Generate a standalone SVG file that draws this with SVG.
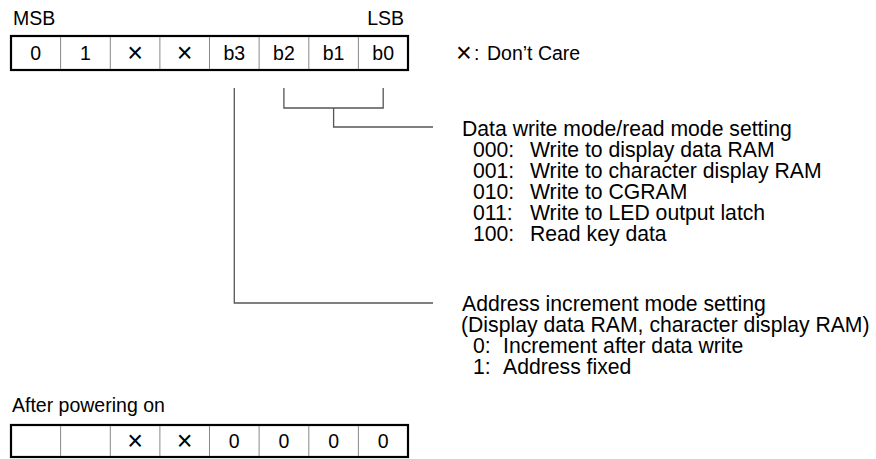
<svg xmlns="http://www.w3.org/2000/svg" width="876" height="459" viewBox="0 0 876 459">
<style>
text{font-family:"Liberation Sans",Arial,sans-serif;font-size:19.5px;fill:#000}
.c{text-anchor:middle}
.x{font-size:27px}
.d{font-size:21.2px}
.outer{fill:none;stroke:#000;stroke-width:2.2}
.div{stroke:#888;stroke-width:1}
.conn{fill:none;stroke:#555;stroke-width:1.3}
</style>
<rect width="876" height="459" fill="#fff"/>
<g id="register">
<text x="13" y="25">MSB</text>
<text x="404" y="25" text-anchor="end">LSB</text>
<rect class="outer" x="11" y="36" width="397" height="34"/>
<g class="div">
<line x1="60.6" y1="37" x2="60.6" y2="69"/><line x1="110.3" y1="37" x2="110.3" y2="69"/><line x1="159.9" y1="37" x2="159.9" y2="69"/><line x1="209.5" y1="37" x2="209.5" y2="69"/><line x1="259.1" y1="37" x2="259.1" y2="69"/><line x1="308.8" y1="37" x2="308.8" y2="69"/><line x1="358.4" y1="37" x2="358.4" y2="69"/>
</g>
<text class="c" x="35.8" y="60">0</text><text class="c" x="85.4" y="60">1</text><text class="c x" x="135.1" y="62">×</text><text class="c x" x="184.7" y="62">×</text><text class="c" x="234.3" y="60">b3</text><text class="c" x="283.9" y="60">b2</text><text class="c" x="333.6" y="60">b1</text><text class="c" x="383.2" y="60">b0</text>
</g>
<g id="legend"><text class="x" x="456" y="62">×</text><text x="474" y="60">:</text><text x="487" y="60">Don’t Care</text></g>
<g id="connectors">
<polyline class="conn" points="283.9,88 283.9,108 383.2,108 383.2,88"/>
<polyline class="conn" points="333.6,108 333.6,127 433,127"/>
<polyline class="conn" points="234.3,88 234.3,303 433,303"/>
</g>
<g id="data-mode" class="d">
<text class="d" x="462" y="136">Data write mode/read mode setting</text>
<text class="d" x="473" y="157">000:</text><text class="d" x="530" y="157">Write to display data RAM</text>
<text class="d" x="473" y="178">001:</text><text class="d" x="530" y="178">Write to character display RAM</text>
<text class="d" x="473" y="199">010:</text><text class="d" x="530" y="199">Write to CGRAM</text>
<text class="d" x="473" y="220">011:</text><text class="d" x="530" y="220">Write to LED output latch</text>
<text class="d" x="473" y="241">100:</text><text class="d" x="530" y="241">Read key data</text>
</g>
<g id="addr-mode">
<text class="d" x="462" y="311">Address increment mode setting</text>
<text class="d" x="461" y="332">(Display data RAM, character display RAM)</text>
<text class="d" x="473" y="353">0:</text><text class="d" x="503" y="353">Increment after data write</text>
<text class="d" x="473" y="374">1:</text><text class="d" x="503" y="374">Address fixed</text>
</g>
<g id="after-power">
<text x="12" y="412">After powering on</text>
<rect class="outer" x="11" y="425" width="397" height="32"/>
<g class="div">
<line x1="60.6" y1="426" x2="60.6" y2="456"/><line x1="110.3" y1="426" x2="110.3" y2="456"/><line x1="159.9" y1="426" x2="159.9" y2="456"/><line x1="209.5" y1="426" x2="209.5" y2="456"/><line x1="259.1" y1="426" x2="259.1" y2="456"/><line x1="308.8" y1="426" x2="308.8" y2="456"/><line x1="358.4" y1="426" x2="358.4" y2="456"/>
</g>
<text class="c x" x="135.1" y="450">×</text><text class="c x" x="184.7" y="450">×</text><text class="c" x="234.3" y="448">0</text><text class="c" x="283.9" y="448">0</text><text class="c" x="333.6" y="448">0</text><text class="c" x="383.2" y="448">0</text>
</g>
</svg>
